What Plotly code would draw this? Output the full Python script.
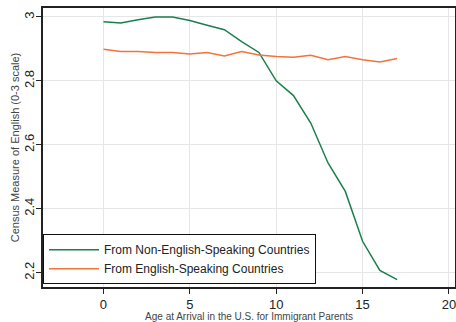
import plotly.graph_objects as go

ages = list(range(0, 18))
non_english = [2.985, 2.981, 2.991, 3.0, 3.0, 2.989, 2.974, 2.96, 2.923, 2.889,
               2.8, 2.754, 2.668, 2.543, 2.454, 2.298, 2.207, 2.178]
english = [2.899, 2.892, 2.892, 2.889, 2.889, 2.884, 2.889, 2.878, 2.892, 2.881,
           2.876, 2.874, 2.880, 2.866, 2.876, 2.866, 2.859, 2.870]
x_ticks = [0, 5, 10, 15, 20]
y_ticks = [2.2, 2.4, 2.6, 2.8, 3.0]
y_tick_labels = ["2.2", "2.4", "2.6", "2.8", "3"]

font = "Liberation Sans, Arial, sans-serif"

fig = go.Figure()
fig.add_trace(go.Scatter(x=ages, y=non_english, mode="lines",
                         name="From Non-English-Speaking Countries",
                         line=dict(color="#1b7f4c", width=1.5)))
fig.add_trace(go.Scatter(x=ages, y=english, mode="lines",
                         name="From English-Speaking Countries",
                         line=dict(color="#f4733a", width=1.5)))

fig.update_layout(
    width=456, height=322,
    margin=dict(l=43, r=1, t=8, b=35),
    paper_bgcolor="white", plot_bgcolor="white",
    font=dict(family=font, size=12, color="#222"),
    showlegend=True,
    legend=dict(x=0.0, y=0.01, xanchor="left", yanchor="bottom",
                bordercolor="#111", borderwidth=1, bgcolor="white",
                font=dict(size=12, color="#222"),
                tracegroupgap=0, itemwidth=50),
    xaxis=dict(range=[-3.5, 20.35], tickvals=x_ticks, ticks="outside",
               ticklen=5, tickcolor="#222", showgrid=True, gridcolor="#e6e6e6",
               showline=True, linecolor="#222", linewidth=1.5, mirror=True,
               zeroline=False, tickfont=dict(size=13), automargin=False,
               ticklabeloverflow="allow",
               title=dict(text="Age at Arrival in the U.S. for Immigrant Parents",
                          font=dict(size=10, color="#444"), standoff=2)),
    yaxis=dict(range=[2.155, 3.028], tickvals=y_ticks, ticktext=y_tick_labels,
               ticks="outside", ticklen=5, tickcolor="#222", tickangle=-90,
               showgrid=True, gridcolor="#e6e6e6", automargin=False,
               ticklabelstandoff=-3,
               showline=True, linecolor="#222", linewidth=1.5, mirror=True,
               zeroline=False, tickfont=dict(size=13),
               title=dict(text="Census Measure of English (0-3 scale)",
                          font=dict(size=11, color="#444"), standoff=0)),
)

fig.write_html("out.html", config={"displayModeBar": False},
               post_script="document.body.style.margin='0';")
